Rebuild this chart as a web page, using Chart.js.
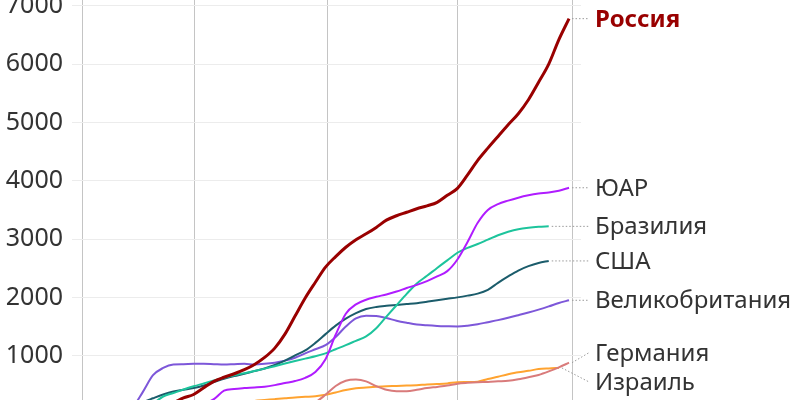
<!DOCTYPE html>
<html>
<head>
<meta charset="utf-8">
<script src="https://cdn.jsdelivr.net/npm/chart.js@4.4.0/dist/chart.umd.min.js"></script>
<style>
  html, body { margin: 0; padding: 0; background: #fff; overflow: hidden; }
  #wrap { position: absolute; left: 0; top: -30px; width: 800px; height: 480px; }
</style>
</head>
<body>
<div id="wrap"><canvas id="myChart" width="800" height="480"></canvas></div>
<script>
// weeks since start, one point every 2 weeks
const weeks = [0,2,4,6,8,10,12,14,16,18,20,22,24,26,28,30,32,34,36,38,40,42,44,46,48,
  50,52,54,56,58,60,62,64,66,68,70,72,74,76,78,80,82,84,86,88,90,92,94,96];

// vertical gridline positions (weeks) and y ticks
const xGrid = [0, 22.27, 48.3, 74.1, 96.6];
const yTicks = [0, 1000, 2000, 3000, 4000, 5000, 6000, 7000];

const names = ["Россия", "ЮАР", "Бразилия", "США", "Великобритания", "Германия", "Израиль"];
const colors = ["#990000", "#b01cff", "#1dc49c", "#1b5c6b", "#7d57d9", "#d97b7b", "#ffa330"];

const russia = [0,0,0,0,0,10,30,60,120,190,
  275,335,450,560,630,690,760,850,970,1130,
  1370,1680,1990,2260,2520,2700,2860,2990,3090,3200,
  3325,3400,3460,3520,3570,3630,3750,3870,4100,4350,
  4560,4760,4960,5150,5390,5690,6000,6420,6780];
const sa = [0,0,0,0,0,0,0,0,10,40,
  60,110,170,255,400,430,445,455,468,495,
  530,565,620,720,940,1360,1720,1880,1960,2010,
  2050,2100,2160,2215,2280,2360,2450,2650,2950,3280,
  3500,3600,3660,3710,3750,3780,3800,3830,3880];
const brazil = [0,0,0,0,10,40,90,180,300,360,
  420,475,525,575,622,665,700,738,778,820,
  865,908,950,990,1040,1110,1180,1255,1330,1470,
  1670,1865,2060,2240,2370,2505,2635,2765,2850,2915,
  2990,3065,3125,3170,3195,3210,3218,null,null];
const usa = [0,0,0,10,40,110,200,270,335,385,
  415,445,490,550,605,650,690,735,780,840,
  915,1005,1090,1220,1370,1515,1635,1730,1800,1835,
  1855,1870,1885,1900,1925,1950,1975,2000,2030,2065,
  2130,2250,2360,2460,2535,2590,2625,null,null];
const uk = [0,0,0,0,40,120,380,665,790,850,
  855,860,860,855,850,855,860,850,860,880,
  915,965,1040,1110,1180,1320,1500,1640,1685,1680,
  1645,1600,1565,1535,1520,1510,1505,1502,1515,1540,
  1575,1610,1650,1695,1740,1790,1845,1905,1950];
const germany = [0,0,0,0,0,0,0,0,0,0,
  0,0,10,20,30,40,50,60,70,80,
  90,100,130,200,330,480,570,590,560,478,
  415,390,392,415,445,465,487,520,535,545,
  550,560,570,595,630,670,730,800,880];
const israel = [0,0,0,0,0,0,0,0,0,20,
  40,60,90,120,150,180,205,225,240,255,
  270,285,295,305,330,370,410,440,455,468,
  478,482,488,492,508,515,525,545,548,555,
  600,640,680,715,740,770,782,790,null];

const series = [russia, sa, brazil, usa, uk, germany, israel];
// label shift (px) where end labels would collide
const labelNudge = [0, 0, 0, 0, 0, -10, 14];

const endLabels = {
  id: "endLabels",
  afterDatasetsDraw(chart) {
    const ctx = chart.ctx;
    ctx.save();
    chart.data.datasets.forEach((ds, i) => {
      const meta = chart.getDatasetMeta(i);
      let last = ds.data.length - 1;
      while (ds.data[last].y == null) last--;
      const pt = meta.data[last];
      const ty = pt.y + labelNudge[i];
      ctx.beginPath();
      ctx.setLineDash([1.5, 2]);
      ctx.strokeStyle = "#9a9a9a";
      ctx.lineWidth = 1;
      ctx.moveTo(pt.x + 3, pt.y);
      ctx.lineTo(589, ty);
      ctx.stroke();
      ctx.setLineDash([]);
      ctx.fillStyle = i === 0 ? "#990000" : "#333333";
      ctx.font = (i === 0 ? "bold " : "") + "24px 'Noto Sans'";
      ctx.textAlign = "left";
      ctx.textBaseline = "middle";
      ctx.fillText(ds.label, 595, ty + 1);
    });
    ctx.restore();
  }
};

new Chart(document.getElementById("myChart").getContext("2d"), {
  type: "line",
  data: {
    labels: weeks,
    datasets: series.map((s, i) => ({
      label: names[i],
      data: s.map((v, j) => ({ x: weeks[j], y: v })),
      borderColor: colors[i],
      borderWidth: i === 0 ? 3 : 2,
      pointRadius: 0,
      cubicInterpolationMode: "monotone",
      spanGaps: false
    }))
  },
  options: {
    responsive: false,
    animation: false,
    layout: { padding: { top: 30, right: 219, bottom: 36, left: 0 } },
    plugins: { legend: { display: false }, tooltip: { enabled: false } },
    scales: {
      x: {
        type: "linear",
        min: 0,
        max: 98.36,
        afterBuildTicks: axis => { axis.ticks = xGrid.map(v => ({ value: v })); },
        afterFit: axis => { axis.height = 0; },
        ticks: { display: false },
        grid: { color: "#c4c4c4", drawTicks: false, lineWidth: 1 },
        border: { display: false }
      },
      y: {
        min: 0,
        max: 7100,
        afterBuildTicks: axis => { axis.ticks = yTicks.map(v => ({ value: v })); },
        afterFit: axis => { axis.width = 82; },
        ticks: {
          color: "#333333",
          padding: 9,
          font: { family: "'Noto Sans'", size: 25 },
          callback: v => String(v)
        },
        grid: { color: "#ececec", tickLength: 10, lineWidth: 1 },
        border: { display: false }
      }
    }
  },
  plugins: [endLabels]
});
</script>
</body>
</html>
